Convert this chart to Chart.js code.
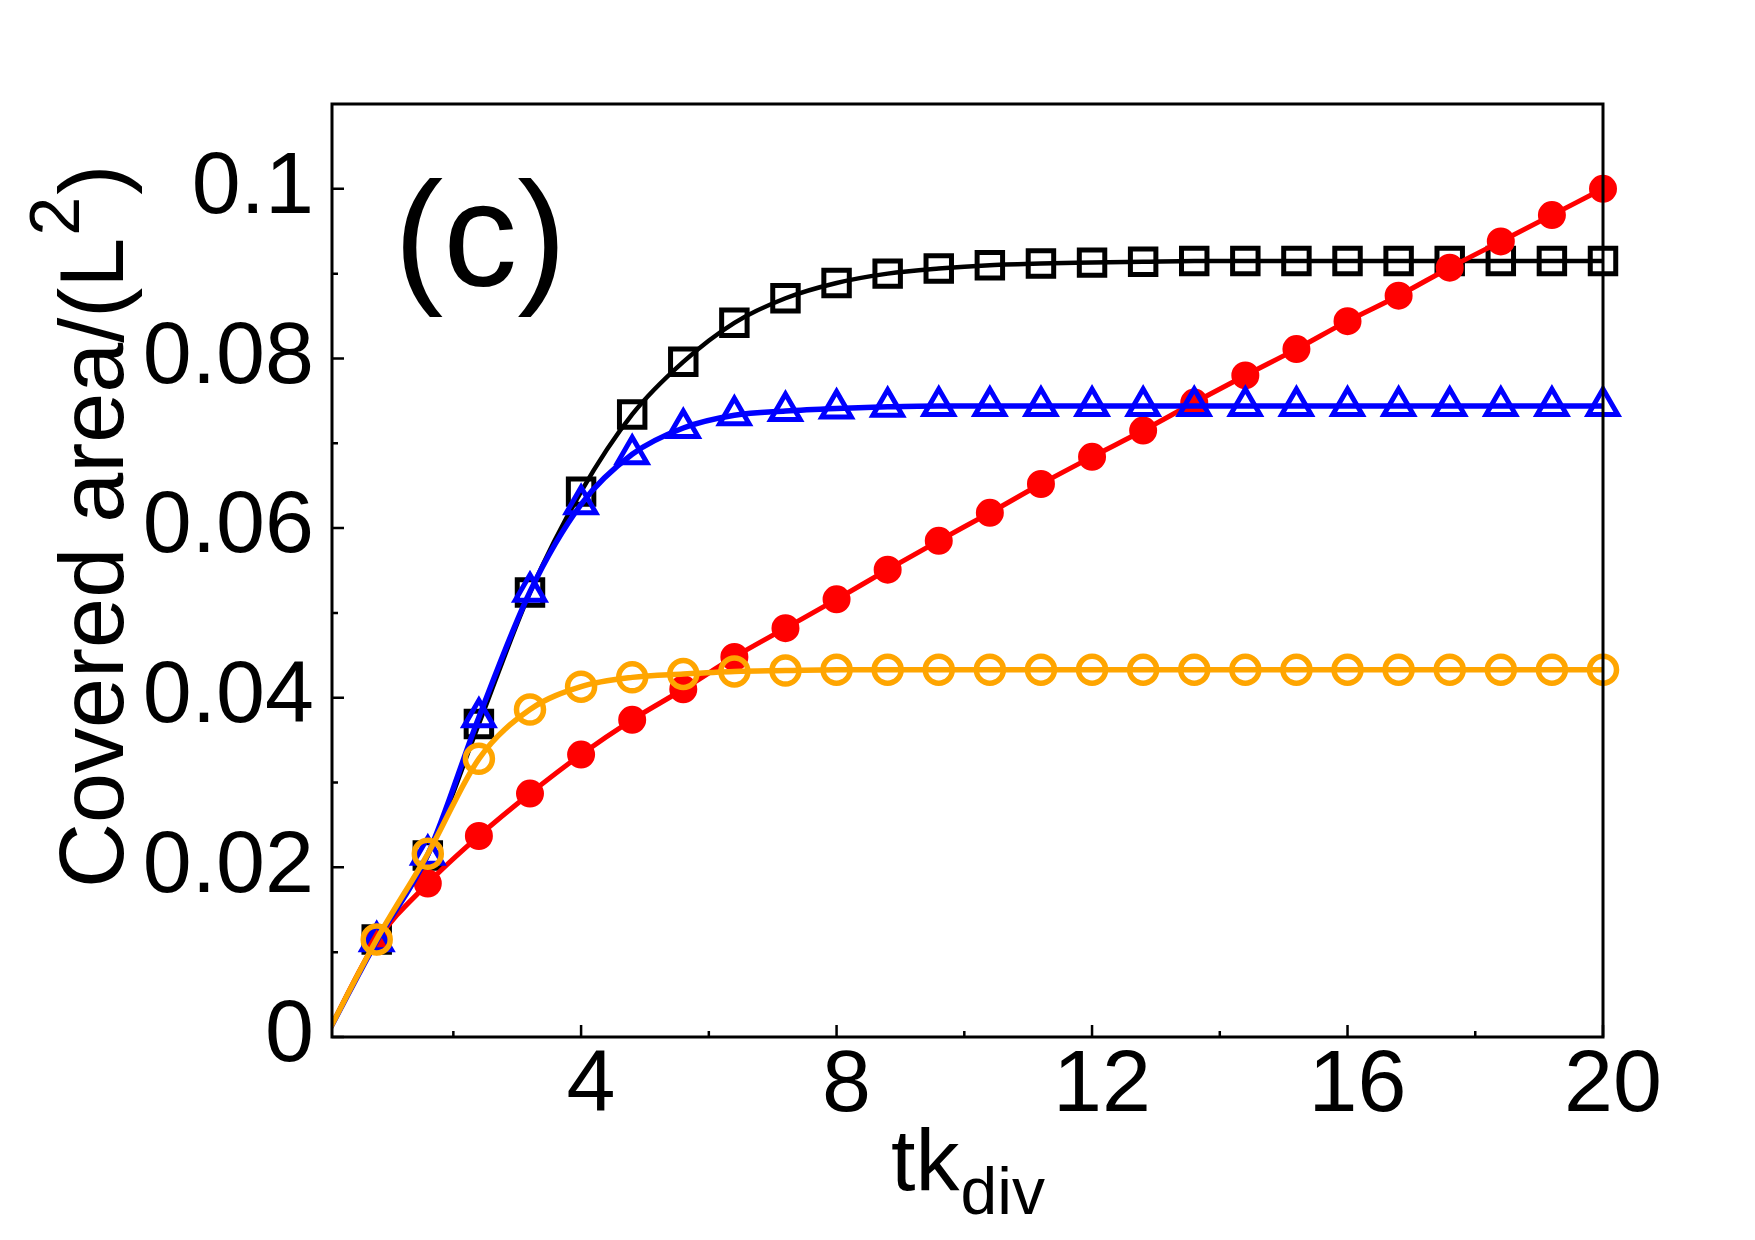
<!DOCTYPE html>
<html>
<head>
<meta charset="utf-8">
<script src="https://cdn.jsdelivr.net/npm/chart.js@4.4.0/dist/chart.umd.min.js"></script>
<style>
  html, body { margin: 0; padding: 0; background: #fff; }
  #chart { display: block; }
</style>
</head>
<body>
<canvas id="chart" width="1755" height="1240"></canvas>
<script>
// x values (tk_div)
const tkDiv = [0, 0.8, 1.6, 2.4, 3.2, 4.0, 4.8, 5.6, 6.4, 7.2, 8.0, 8.8, 9.6, 10.4, 11.2,
               12.0, 12.8, 13.6, 14.4, 15.2, 16.0, 16.8, 17.6, 18.4, 19.2, 20.0];

// covered area / L^2
const blackSquares = [0, 0.0115, 0.0214, 0.0369, 0.0524, 0.0643, 0.0734, 0.0796, 0.0842, 0.0871,
                      0.0889, 0.0900, 0.0906, 0.0910, 0.0912, 0.0913, 0.0914, 0.0915, 0.0915, 0.0915,
                      0.0915, 0.0915, 0.0915, 0.0915, 0.0915, 0.0915];
const blueTriangles = [0, 0.0113, 0.0215, 0.0377, 0.0525, 0.0628, 0.0687, 0.0718, 0.0733, 0.0738,
                       0.0741, 0.0743, 0.0744, 0.0744, 0.0744, 0.0744, 0.0744, 0.0744, 0.0744, 0.0744,
                       0.0744, 0.0744, 0.0744, 0.0744, 0.0744, 0.0744];
const redDots = [0, 0.0113, 0.0181, 0.0237, 0.0287, 0.0333, 0.0374, 0.0410, 0.0448, 0.0482,
                 0.0516, 0.0551, 0.0585, 0.0618, 0.0652, 0.0684, 0.0715, 0.0748, 0.0780, 0.0811,
                 0.0844, 0.0874, 0.0907, 0.0938, 0.0969, 0.1000];
const orangeCircles = [0, 0.0115, 0.0216, 0.0328, 0.0386, 0.0413, 0.0424, 0.0428, 0.0431, 0.0432,
                       0.0433, 0.0433, 0.0433, 0.0433, 0.0433, 0.0433, 0.0433, 0.0433, 0.0433, 0.0433,
                       0.0433, 0.0433, 0.0433, 0.0433, 0.0433, 0.0433];

// ticks
const xMajorTicks = [4, 8, 12, 16, 20];
const xTickLabels = ['4', '8', '12', '16', '20'];
const xMinorTicks = [2, 6, 10, 14, 18];
const yMajorTicks = [0, 0.02, 0.04, 0.06, 0.08, 0.1];
const yTickLabels = ['0', '0.02', '0.04', '0.06', '0.08', '0.1'];
const yMinorTicks = [0.01, 0.03, 0.05, 0.07, 0.09];

const FONT = '"Liberation Sans", Arial, Helvetica, sans-serif';

function toPoints(ys) {
  return tkDiv.map((t, i) => ({x: t, y: ys[i]}));
}

// no marker on the origin point
const hideFirst = (r) => (c) => c.dataIndex === 0 ? 0 : r;

const clipLeft = {left: 0, top: false, right: false, bottom: 0};

const frameAndLabels = {
  id: 'frameAndLabels',
  afterDatasetsDraw(chart) {
    const {ctx, chartArea: a, scales: {x, y}} = chart;
    ctx.save();
    ctx.strokeStyle = '#000';
    ctx.lineWidth = 3;
    ctx.strokeRect(a.left, a.top, a.right - a.left, a.bottom - a.top);

    // inward ticks
    ctx.lineWidth = 2.5;
    ctx.beginPath();
    xMajorTicks.forEach(v => { const px = x.getPixelForValue(v); ctx.moveTo(px, a.bottom); ctx.lineTo(px, a.bottom - 12); });
    xMinorTicks.forEach(v => { const px = x.getPixelForValue(v); ctx.moveTo(px, a.bottom); ctx.lineTo(px, a.bottom - 6); });
    yMajorTicks.forEach(v => { const py = y.getPixelForValue(v); ctx.moveTo(a.left, py); ctx.lineTo(a.left + 12, py); });
    yMinorTicks.forEach(v => { const py = y.getPixelForValue(v); ctx.moveTo(a.left, py); ctx.lineTo(a.left + 6, py); });
    ctx.stroke();
    ctx.restore();
  },
  afterDraw(chart) {
    const {ctx, chartArea: a} = chart;
    ctx.save();
    ctx.fillStyle = '#000';
    ctx.textBaseline = 'alphabetic';
    ctx.textAlign = 'left';

    // panel label
    ctx.font = '148px ' + FONT;
    ctx.fillText('(c)', 394, 286);

    // x title: tk with subscript div
    ctx.font = '88px ' + FONT;
    const wMain = ctx.measureText('tk').width;
    ctx.font = '66px ' + FONT;
    const wSub = ctx.measureText('div').width;
    const cx = (a.left + a.right) / 2;
    const x0 = cx - (wMain + wSub) / 2;
    ctx.font = '88px ' + FONT;
    ctx.fillText('tk', x0, 1190);
    ctx.font = '66px ' + FONT;
    ctx.fillText('div', x0 + wMain + 1, 1214);

    // y title: Covered area/(L^2)
    ctx.translate(123, 888);
    ctx.rotate(-Math.PI / 2);
    ctx.font = '90px ' + FONT;
    const part1 = 'Covered area/(L';
    ctx.fillText(part1, 0, 0);
    let w = ctx.measureText(part1).width;
    ctx.font = '70px ' + FONT;
    ctx.fillText('2', w + 2, -44);
    w += ctx.measureText('2').width + 4;
    ctx.font = '90px ' + FONT;
    ctx.fillText(')', w, 0);
    ctx.restore();
  }
};

const ctx = document.getElementById('chart').getContext('2d');
const chart = new Chart(ctx, {
  type: 'line',
  data: {
    datasets: [
      {
        label: 'orange',
        data: toPoints(orangeCircles),
        borderColor: '#ffa500',
        borderWidth: 5.5,
        pointStyle: 'circle',
        pointRadius: hideFirst(13.5),
        pointBorderWidth: 5.5,
        pointBorderColor: '#ffa500',
        pointBackgroundColor: 'rgba(0,0,0,0)',
        cubicInterpolationMode: 'monotone',
        clip: clipLeft
      },
      {
        label: 'blue',
        data: toPoints(blueTriangles),
        borderColor: '#0000ff',
        borderWidth: 5.5,
        pointStyle: 'triangle',
        pointRadius: hideFirst(17),
        pointBorderWidth: 5,
        pointBorderColor: '#0000ff',
        pointBackgroundColor: 'rgba(0,0,0,0)',
        cubicInterpolationMode: 'monotone',
        clip: clipLeft
      },
      {
        label: 'red',
        data: toPoints(redDots),
        borderColor: '#ff0000',
        borderWidth: 5,
        pointStyle: 'circle',
        pointRadius: hideFirst(13),
        pointBorderWidth: 2,
        pointBorderColor: '#ff0000',
        pointBackgroundColor: '#ff0000',
        cubicInterpolationMode: 'monotone',
        clip: clipLeft
      },
      {
        label: 'black',
        data: toPoints(blackSquares),
        borderColor: '#000000',
        borderWidth: 4.5,
        pointStyle: 'rect',
        pointRadius: hideFirst(18),
        pointBorderWidth: 5,
        pointBorderColor: '#000000',
        pointBackgroundColor: 'rgba(0,0,0,0)',
        cubicInterpolationMode: 'monotone',
        clip: clipLeft
      }
    ]
  },
  options: {
    responsive: false,
    animation: false,
    devicePixelRatio: 1,
    layout: { padding: { top: 104, right: 152, left: 0, bottom: 0 } },
    plugins: {
      legend: { display: false },
      tooltip: { enabled: false }
    },
    scales: {
      x: {
        type: 'linear',
        min: 0.1,
        max: 20,
        grid: { display: false, drawTicks: false },
        border: { display: false },
        afterBuildTicks: (s) => { s.ticks = xMajorTicks.map(v => ({value: v})); },
        afterFit: (s) => { s.height = 203; },
        ticks: {
          color: '#000',
          padding: 6,
          labelOffset: 10,
          maxRotation: 0,
          autoSkip: false,
          font: { family: FONT, size: 88, lineHeight: 1 },
          callback: (v, i) => xTickLabels[i]
        }
      },
      y: {
        type: 'linear',
        min: 0,
        max: 0.11,
        grid: { display: false, drawTicks: false },
        border: { display: false },
        afterBuildTicks: (s) => { s.ticks = yMajorTicks.map(v => ({value: v})); },
        afterFit: (s) => { s.width = 332; },
        ticks: {
          color: '#000',
          padding: 18,
          autoSkip: false,
          font: { family: FONT, size: 88, lineHeight: 1 },
          callback: (v, i) => yTickLabels[i]
        }
      }
    }
  },
  plugins: [frameAndLabels]
});
</script>
</body>
</html>
